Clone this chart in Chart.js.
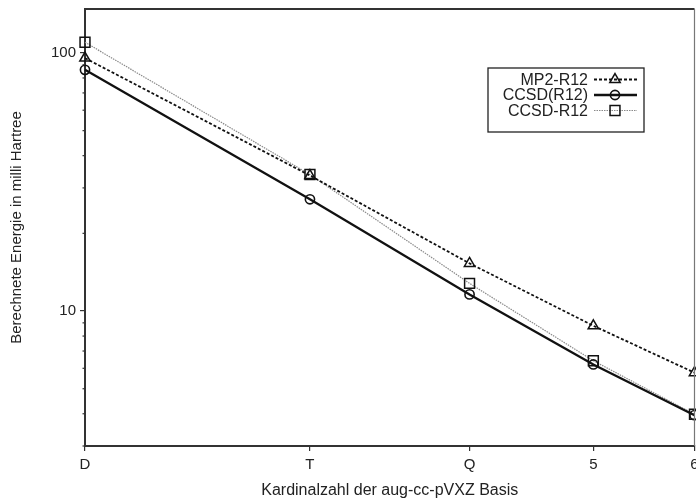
<!DOCTYPE html>
<html>
<head>
<meta charset="utf-8">
<script src="https://cdn.jsdelivr.net/npm/chart.js@4"></script>
<style>
  html, body { margin: 0; padding: 0; background: #fff; overflow: hidden; }
  #wrap { width: 696px; height: 502px; }
</style>
</head>
<body>
<div id="wrap"><canvas id="c" width="696" height="502"></canvas></div>
<script>
// ---- data ----
const cardinal = [2, 3, 4, 5, 6];
const cardinalLabels = ['D', 'T', 'Q', '5', '6'];
const mp2R12 = [95.5, 33.5, 15.3, 8.77, 5.77];
const ccsdParenR12 = [86, 27.1, 11.6, 6.21, 3.95];
const ccsdR12 = [110, 33.8, 12.8, 6.42, 3.98];
const yMajorTicks = [10, 100];
const yMinorTicks = [3, 4, 5, 6, 7, 8, 9, 20, 30, 40, 50, 60, 70, 80, 90];
const seriesNames = ['MP2-R12', 'CCSD(R12)', 'CCSD-R12'];

const FONT = '"Liberation Sans", Arial, sans-serif';
const TXT = '#222';

function pts(vals) { return cardinal.map((x, i) => ({ x: x, y: vals[i] })); }

function drawMarker(ctx, style, x, y, r) {
  ctx.beginPath();
  if (style === 'circle') {
    ctx.arc(x, y, r, 0, Math.PI * 2);
  } else if (style === 'rect') {
    const s = r * Math.SQRT1_2;
    ctx.rect(x - s, y - s, 2 * s, 2 * s);
  } else if (style === 'triangle') {
    ctx.moveTo(x, y - r);
    ctx.lineTo(x + Math.cos(Math.PI / 6) * r, y + Math.sin(Math.PI / 6) * r);
    ctx.lineTo(x - Math.cos(Math.PI / 6) * r, y + Math.sin(Math.PI / 6) * r);
    ctx.closePath();
  }
  ctx.stroke();
}

const framePlugin = {
  id: 'frame',
  afterDraw(chart) {
    const { ctx, chartArea: a, scales } = chart;
    ctx.save();
    // top border
    ctx.strokeStyle = '#333'; ctx.lineWidth = 1.8; ctx.setLineDash([]);
    ctx.beginPath(); ctx.moveTo(a.left, a.top); ctx.lineTo(a.right, a.top); ctx.stroke();
    // right border
    ctx.strokeStyle = '#777'; ctx.lineWidth = 1.2;
    ctx.beginPath(); ctx.moveTo(a.right, a.top); ctx.lineTo(a.right, a.bottom); ctx.stroke();
    // minor y ticks
    ctx.strokeStyle = '#333'; ctx.lineWidth = 1.2;
    yMinorTicks.forEach(v => {
      const py = scales.y.getPixelForValue(v);
      ctx.beginPath(); ctx.moveTo(a.left - 2.5, py); ctx.lineTo(a.left, py); ctx.stroke();
    });
    // legend
    const bx = 488, by = 68, bw = 156, bh = 64;
    ctx.fillStyle = '#fff';
    ctx.fillRect(bx, by, bw, bh);
    ctx.strokeStyle = '#222'; ctx.lineWidth = 1.3;
    ctx.strokeRect(bx, by, bw, bh);
    const rows = [79.5, 95, 110.5];
    ctx.font = '16px ' + FONT;
    ctx.textAlign = 'right'; ctx.textBaseline = 'middle';
    chart.data.datasets.forEach((ds, i) => {
      const y = rows[i];
      ctx.fillStyle = TXT;
      ctx.fillText(seriesNames[i], 588, y + 1);
      ctx.strokeStyle = ds.borderColor; ctx.lineWidth = ds.borderWidth;
      ctx.setLineDash(ds.borderDash || []);
      ctx.beginPath(); ctx.moveTo(594, y); ctx.lineTo(637, y); ctx.stroke();
      ctx.setLineDash([]);
      ctx.strokeStyle = ds.pointBorderColor; ctx.lineWidth = ds.pointBorderWidth;
      drawMarker(ctx, ds.pointStyle, 615, y, ds.pointRadius);
    });
    ctx.restore();
  }
};

new Chart(document.getElementById('c'), {
  type: 'line',
  data: {
    datasets: [
      {
        label: seriesNames[0], data: pts(mp2R12),
        borderColor: '#111', borderWidth: 1.8, borderDash: [3, 2],
        pointStyle: 'triangle', pointRadius: 6, pointBorderColor: '#111',
        pointBackgroundColor: 'rgba(0,0,0,0)', pointBorderWidth: 1.5, clip: false
      },
      {
        label: seriesNames[1], data: pts(ccsdParenR12),
        borderColor: '#111', borderWidth: 2.3,
        pointStyle: 'circle', pointRadius: 4.6, pointBorderColor: '#111',
        pointBackgroundColor: 'rgba(0,0,0,0)', pointBorderWidth: 1.6, clip: false
      },
      {
        label: seriesNames[2], data: pts(ccsdR12),
        borderColor: '#8a8a8a', borderWidth: 1.2, borderDash: [1.5, 1],
        pointStyle: 'rect', pointRadius: 7, pointBorderColor: '#111',
        pointBackgroundColor: 'rgba(0,0,0,0)', pointBorderWidth: 1.5, clip: false
      }
    ]
  },
  options: {
    responsive: false,
    animation: false,
    layout: { autoPadding: false, padding: { top: 9, right: 1.5, left: 0, bottom: 0 } },
    plugins: { legend: { display: false }, tooltip: { enabled: false } },
    elements: { line: { tension: 0 } },
    scales: {
      x: {
        type: 'logarithmic', min: 2, max: 6,
        afterBuildTicks(s) { s.ticks = cardinal.map(v => ({ value: v })); },
        afterFit(s) { s.height = 56; s.paddingLeft = 0; s.paddingRight = 0; },
        ticks: {
          autoSkip: false, maxRotation: 0, padding: 5,
          color: TXT, font: { family: FONT, size: 15 },
          callback(v) { const i = cardinal.indexOf(v); return i >= 0 ? cardinalLabels[i] : ''; }
        },
        grid: { drawOnChartArea: false, drawTicks: true, tickLength: 5, color: '#333', lineWidth: 1.2 },
        border: { color: '#333', width: 2 },
        title: {
          display: true, text: 'Kardinalzahl der aug-cc-pVXZ Basis',
          color: TXT, font: { family: FONT, size: 16 }, padding: { top: 0, bottom: 2 }
        }
      },
      y: {
        type: 'logarithmic', min: 3, max: 148,
        afterBuildTicks(s) { s.ticks = yMajorTicks.map(v => ({ value: v })); },
        afterFit(s) { s.width = 85; s.paddingTop = 0; s.paddingBottom = 0; },
        ticks: {
          autoSkip: false, padding: 4,
          color: TXT, font: { family: FONT, size: 15 },
          callback(v) { return String(v); }
        },
        grid: { drawOnChartArea: false, drawTicks: true, tickLength: 5, color: '#333', lineWidth: 1.2 },
        border: { color: '#333', width: 2 },
        title: {
          display: true, text: 'Berechnete Energie in milli Hartree',
          color: TXT, font: { family: FONT, size: 15 }, padding: { top: 8, bottom: 0 }
        }
      }
    }
  },
  plugins: [framePlugin]
});
</script>
</body>
</html>
